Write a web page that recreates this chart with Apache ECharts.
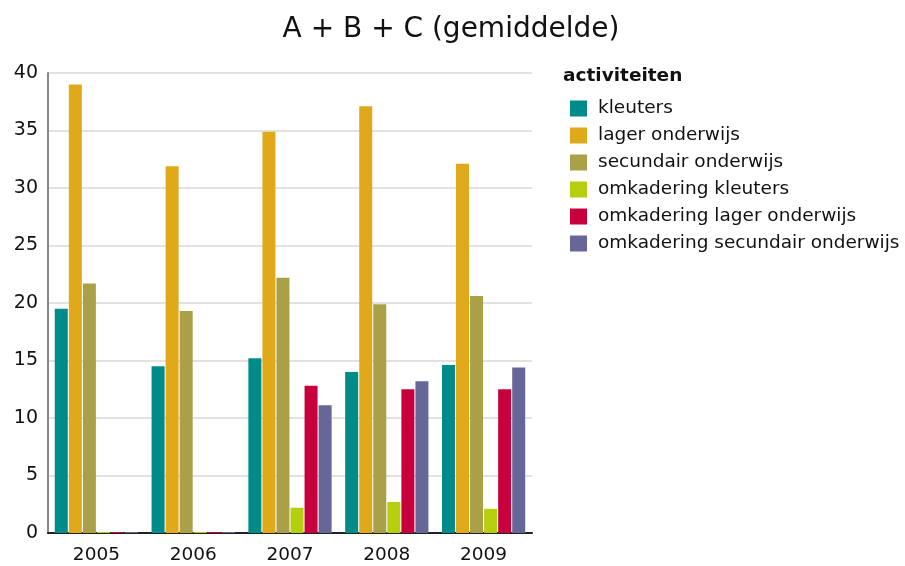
<!DOCTYPE html>
<html>
<head>
<meta charset="utf-8">
<script src="https://cdn.jsdelivr.net/npm/echarts@6/dist/echarts.min.js"></script>
<style>html,body{margin:0;padding:0;background:#fff}#c{width:905px;height:566px}</style>
</head>
<body>
<div id="c"></div>
<script>
var years = ['2005', '2006', '2007', '2008', '2009'];
var seriesNames = ['kleuters', 'lager onderwijs', 'secundair onderwijs', 'omkadering kleuters', 'omkadering lager onderwijs', 'omkadering secundair onderwijs'];
var kleuters = [19.5, 14.5, 15.2, 14.0, 14.6];
var lagerOnderwijs = [39.0, 31.9, 34.9, 37.1, 32.1];
var secundairOnderwijs = [21.7, 19.3, 22.2, 19.9, 20.6];
var omkaderingKleuters = [0, 0, 2.2, 2.7, 2.1];
var omkaderingLager = [0, 0, 12.8, 12.5, 12.5];
var omkaderingSecundair = [0, 0, 11.1, 13.2, 14.4];
var colors = ['#008b8b', '#e0a91a', '#a9a048', '#b5cf0f', '#c7003d', '#666699'];
var allData = [kleuters, lagerOnderwijs, secundairOnderwijs, omkaderingKleuters, omkaderingLager, omkaderingSecundair];
var yTicks = [0, 5, 10, 15, 20, 25, 30, 35, 40];

var FONT = 'DejaVu Sans';
var chart = echarts.init(document.getElementById('c'), null, {renderer: 'canvas'});
chart.setOption({
  animation: false,
  textStyle: {fontFamily: FONT},
  title: [{
    text: 'A + B + C (gemiddelde)',
    left: 446, top: 11, textAlign: 'center',
    textStyle: {fontFamily: FONT, fontSize: 28, fontWeight: 'normal', color: '#111'}
  }, {
    text: 'activiteiten',
    left: 558, top: 62,
    textStyle: {fontFamily: FONT, fontSize: 18.5, fontWeight: 'bold', color: '#111'}
  }],
  legend: {
    orient: 'vertical',
    left: 565, top: 94,
    itemWidth: 17, itemHeight: 16, itemGap: 8,
    icon: 'rect',
    textStyle: {fontFamily: FONT, fontSize: 18.5, color: '#111', padding: [0, 0, 0, 6]},
    data: seriesNames
  },
  grid: {left: 48, right: 373, top: 73, bottom: 33},
  xAxis: {
    type: 'category',
    data: years,
    axisLine: {lineStyle: {color: '#222', width: 2}},
    axisTick: {show: false},
    axisLabel: {fontFamily: FONT, fontSize: 18.5, color: '#111', margin: 13}
  },
  yAxis: {
    type: 'value', min: 0, max: 40, interval: 5,
    axisLine: {show: true, lineStyle: {color: '#888', width: 2}},
    axisTick: {show: false},
    splitLine: {lineStyle: {color: '#d9d9d9', width: 1.5}},
    axisLabel: {fontFamily: FONT, fontSize: 19, color: '#111', margin: 10}
  },
  series: seriesNames.map(function (n, i) {
    return {
      name: n, type: 'bar', data: allData[i],
      itemStyle: {color: colors[i]},
      barGap: '8%', barCategoryGap: '14%',
      barMinHeight: 1
    };
  })
});
</script>
</body>
</html>
